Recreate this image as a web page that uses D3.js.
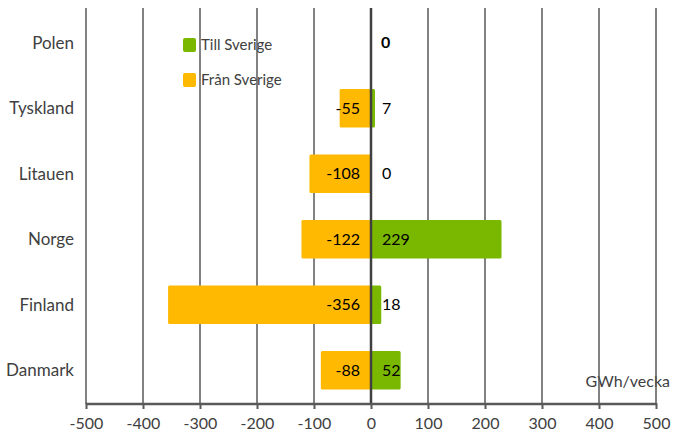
<!DOCTYPE html>
<html>
<head>
<meta charset="utf-8">
<script src="https://cdn.jsdelivr.net/npm/d3@7"></script>
<style>
body { margin:0; background:#fff; }
text { font-family: Lato, "Open Sans", sans-serif; }
</style>
</head>
<body>
<svg id="graph"></svg>
<script>
var categories = ["Polen","Tyskland","Litauen","Norge","Finland","Danmark"]
var tillSverige = [0,7,0,229,18,52]
var franSverige = [null,-55,-108,-122,-356,-88]
var xTicks = [-500,-400,-300,-200,-100,0,100,200,300,400,500]
var legendNames = ["Till Sverige","Från Sverige"]
var unitLabel = "GWh/vecka"

var green = "#7ab800"
var orange = "#ffb900"

var screen = {width:673,height:442}
var margin = {top:8,right:17,bottom:38,left:86}

var svg = d3.select("#graph")
    .attr("width",screen.width)
    .attr("height",screen.height)

var xScale = d3.scaleLinear()
    .domain([-500,500])
    .range([margin.left,screen.width-margin.right])

// bands shifted a touch lower than the plot area
var yScale = d3.scaleBand()
    .domain(categories)
    .range([10,403])
    .paddingInner(0.41)
    .paddingOuter(0.205)

var bottom = screen.height-margin.bottom

// unit label sits under the gridlines
svg.append("text")
    .attr("x",670)
    .attr("y",387)
    .attr("text-anchor","end")
    .attr("fill","#404040")
    .style("font-size","16px")
    .text(unitLabel)

// legend
var legendColors = [green,orange]
var legend = svg.selectAll(".legend")
    .data(legendNames)
    .enter()
    .append("g")
    .attr("transform",function(d,i){ return "translate(183,"+(38+i*35)+")" })
legend.append("rect")
    .attr("width",13)
    .attr("height",14)
    .attr("rx",2)
    .attr("fill",function(d,i){ return legendColors[i] })
legend.append("text")
    .attr("x",18)
    .attr("y",12)
    .attr("fill","#404040")
    .style("font-size","15px")
    .text(function(d){ return d })

// gridlines
svg.selectAll(".grid")
    .data(xTicks.filter(function(t){ return t!=0 }))
    .enter()
    .append("line")
    .attr("x1",function(t){ return xScale(t) })
    .attr("x2",function(t){ return xScale(t) })
    .attr("y1",margin.top)
    .attr("y2",bottom)
    .attr("stroke","#595959")
    .attr("stroke-width",1.5)

// bars
var rows = categories.map(function(c,i){
    return {name:c,till:tillSverige[i],fran:franSverige[i]}
})

svg.selectAll(".fran")
    .data(rows.filter(function(r){ return r.fran!=null }))
    .enter()
    .append("rect")
    .attr("x",function(r){ return xScale(r.fran) })
    .attr("y",function(r){ return yScale(r.name) })
    .attr("width",function(r){ return xScale(0)-xScale(r.fran) })
    .attr("height",yScale.bandwidth())
    .attr("rx",1.5)
    .attr("fill",orange)

svg.selectAll(".till")
    .data(rows)
    .enter()
    .append("rect")
    .attr("x",xScale(0))
    .attr("y",function(r){ return yScale(r.name) })
    .attr("width",function(r){ return xScale(r.till)-xScale(0) })
    .attr("height",yScale.bandwidth())
    .attr("rx",1.5)
    .attr("fill",green)

// zero line
svg.append("line")
    .attr("x1",xScale(0))
    .attr("x2",xScale(0))
    .attr("y1",margin.top)
    .attr("y2",bottom)
    .attr("stroke","#404040")
    .attr("stroke-width",2.5)

// value labels
svg.selectAll(".franLabel")
    .data(rows.filter(function(r){ return r.fran!=null }))
    .enter()
    .append("text")
    .attr("x",xScale(0)-11)
    .attr("y",function(r){ return yScale(r.name)+yScale.bandwidth()/2 })
    .attr("dy","0.35em")
    .attr("text-anchor","end")
    .attr("fill","#000")
    .style("font-size","16px")
    .text(function(r){ return r.fran })

svg.selectAll(".tillLabel")
    .data(rows)
    .enter()
    .append("text")
    .attr("x",function(r){ return r.fran==null ? xScale(0)+10 : xScale(0)+11 })
    .attr("y",function(r){ return yScale(r.name)+yScale.bandwidth()/2 })
    .attr("dy","0.35em")
    .attr("fill","#000")
    .style("font-size","16px")
    .style("font-weight",function(r){ return r.fran==null ? "bold" : "normal" })
    .text(function(r){ return r.till })

// category labels
svg.selectAll(".cat")
    .data(categories)
    .enter()
    .append("text")
    .attr("x",74)
    .attr("y",function(c){ return yScale(c)+yScale.bandwidth()/2 })
    .attr("dy","0.35em")
    .attr("text-anchor","end")
    .attr("fill","#404040")
    .style("font-size","17px")
    .text(function(c){ return c })

// x axis
var xAxis = d3.axisBottom(xScale)
    .tickValues(xTicks)
    .tickSize(5)
    .tickFormat(function(t){ return String(t) })

var axisG = svg.append("g")
    .attr("transform","translate(0,"+bottom+")")
    .call(xAxis)
axisG.select(".domain")
    .attr("d","M"+xScale(-500)+",0H"+xScale(500))
    .attr("stroke","#595959")
    .attr("stroke-width",2.5)
axisG.selectAll(".tick line")
    .attr("y1",-1)
    .attr("stroke","#595959")
    .attr("stroke-width",2)
axisG.selectAll(".tick text")
    .attr("y",14)
    .attr("fill","#404040")
    .style("font-size","16px")
    .style("font-family","Lato, sans-serif")
</script>
</body>
</html>
